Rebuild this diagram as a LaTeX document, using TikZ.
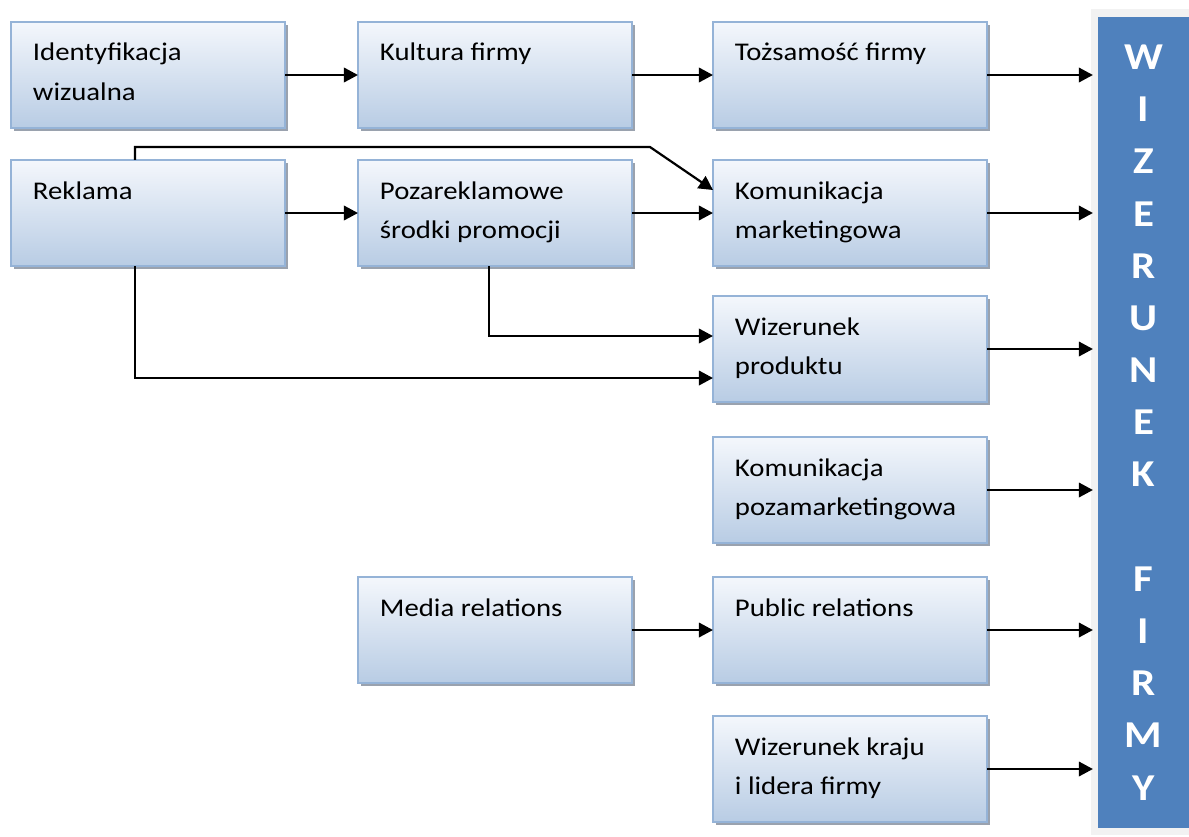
\documentclass[tikz,border=0pt]{standalone}
\usepackage{fontspec}
\setmainfont{Carlito}[FakeStretch=1.13]
\usetikzlibrary{arrows.meta,shadows}

\definecolor{boxtop}{HTML}{F4F7FC}
\definecolor{boxbot}{HTML}{B8CCE4}
\definecolor{boxline}{HTML}{95B3D7}
\definecolor{boxshade}{HTML}{9AA2AE}
\definecolor{barblue}{HTML}{4F81BD}
\definecolor{barback}{HTML}{F2F2F2}

\newcommand{\boxtext}[1]{\parbox[t][2.65cm][t]{5.75cm}{\raggedright\setlength{\baselineskip}{0.975cm}\rule{0pt}{0.975cm}#1}}

\tikzset{
	blok/.style={rectangle, draw=boxline, line width=0.045cm, top color=boxtop, bottom color=boxbot,
		inner xsep=0.55cm, inner ysep=0pt, outer sep=0pt,
		drop shadow={shadow xshift=0.08cm, shadow yshift=-0.08cm, fill=boxshade, opacity=1},
		font=\fontsize{18.1pt}{27.7pt}\selectfont},
	pasek/.style={rectangle, fill=barblue, text=white, inner sep=0pt, align=center,
		minimum width=2.275cm, minimum height=20.275cm,
		font=\fontsize{27pt}{37.1pt}\selectfont\bfseries},
	strzalka/.style={-{Triangle[length=0.35cm,width=0.36cm]}, line width=0.055cm},
	dopaska/.style={strzalka, shorten >=0.12cm}
}

\begin{document}
\begin{tikzpicture}[x=0.025cm, y=-0.025cm]
		%%%%% START %%%%%
		\useasboundingbox (0,0) rectangle (1189,836);
		
		\fill[barback] (1091,9) rectangle (1189,835);
		\node[pasek] (wiz) at (1143.5,422.5) {W\\I\\Z\\E\\R\\U\\N\\E\\K\\\mbox{}\\F\\I\\R\\M\\Y};
		
		\node[blok] (ident) at (148,75) {\boxtext{Identyfikacja\\wizualna}};
		\node[blok] (kult) at (495,75) {\boxtext{Kultura firmy}};
		\node[blok] (tozs) at (850,75) {\boxtext{Tożsamość firmy}};
		
		\node[blok] (rekl) at (148,213) {\boxtext{Reklama}};
		\node[blok] (pozar) at (495,213) {\boxtext{Pozareklamowe\\środki promocji}};
		\node[blok] (kommark) at (850,213) {\boxtext{Komunikacja\\marketingowa}};
		
		\node[blok] (wprod) at (850,349) {\boxtext{Wizerunek\\produktu}};
		\node[blok] (kompoz) at (850,490) {\boxtext{Komunikacja\\pozamarketingowa}};
		
		\node[blok] (media) at (495,630) {\boxtext{Media relations}};
		\node[blok] (pubrel) at (850,630) {\boxtext{Public relations}};
		
		\node[blok] (wkraj) at (850,769) {\boxtext{Wizerunek kraju\\i lidera firmy}};
		
		\draw[strzalka] (ident.east) -- (kult.west);
		\draw[strzalka] (kult.east) -- (tozs.west);
		\draw[strzalka] (rekl.east) -- (pozar.west);
		\draw[strzalka] (pozar.east) -- (kommark.west);
		\draw[strzalka] (media.east) -- (pubrel.west);
		
		\coordinate (zagiecie) at (650,147);
		\draw[strzalka] ([xshift=-0.325cm]rekl.north) |- (zagiecie) -- ([yshift=0.575cm]kommark.west);
		\draw[strzalka] ([xshift=-0.15cm]pozar.south) |- ([yshift=0.325cm]wprod.west);
		\draw[strzalka] ([xshift=-0.325cm]rekl.south) |- ([yshift=-0.725cm]wprod.west);
		
		\draw[dopaska] (tozs.east) -- (tozs.east -| wiz.west);
		\draw[dopaska] (kommark.east) -- (kommark.east -| wiz.west);
		\draw[dopaska] (wprod.east) -- (wprod.east -| wiz.west);
		\draw[dopaska] (kompoz.east) -- (kompoz.east -| wiz.west);
		\draw[dopaska] (pubrel.east) -- (pubrel.east -| wiz.west);
		\draw[dopaska] (wkraj.east) -- (wkraj.east -| wiz.west);
		
		%%%%% END %%%%%
	\end{tikzpicture}
\end{document}
